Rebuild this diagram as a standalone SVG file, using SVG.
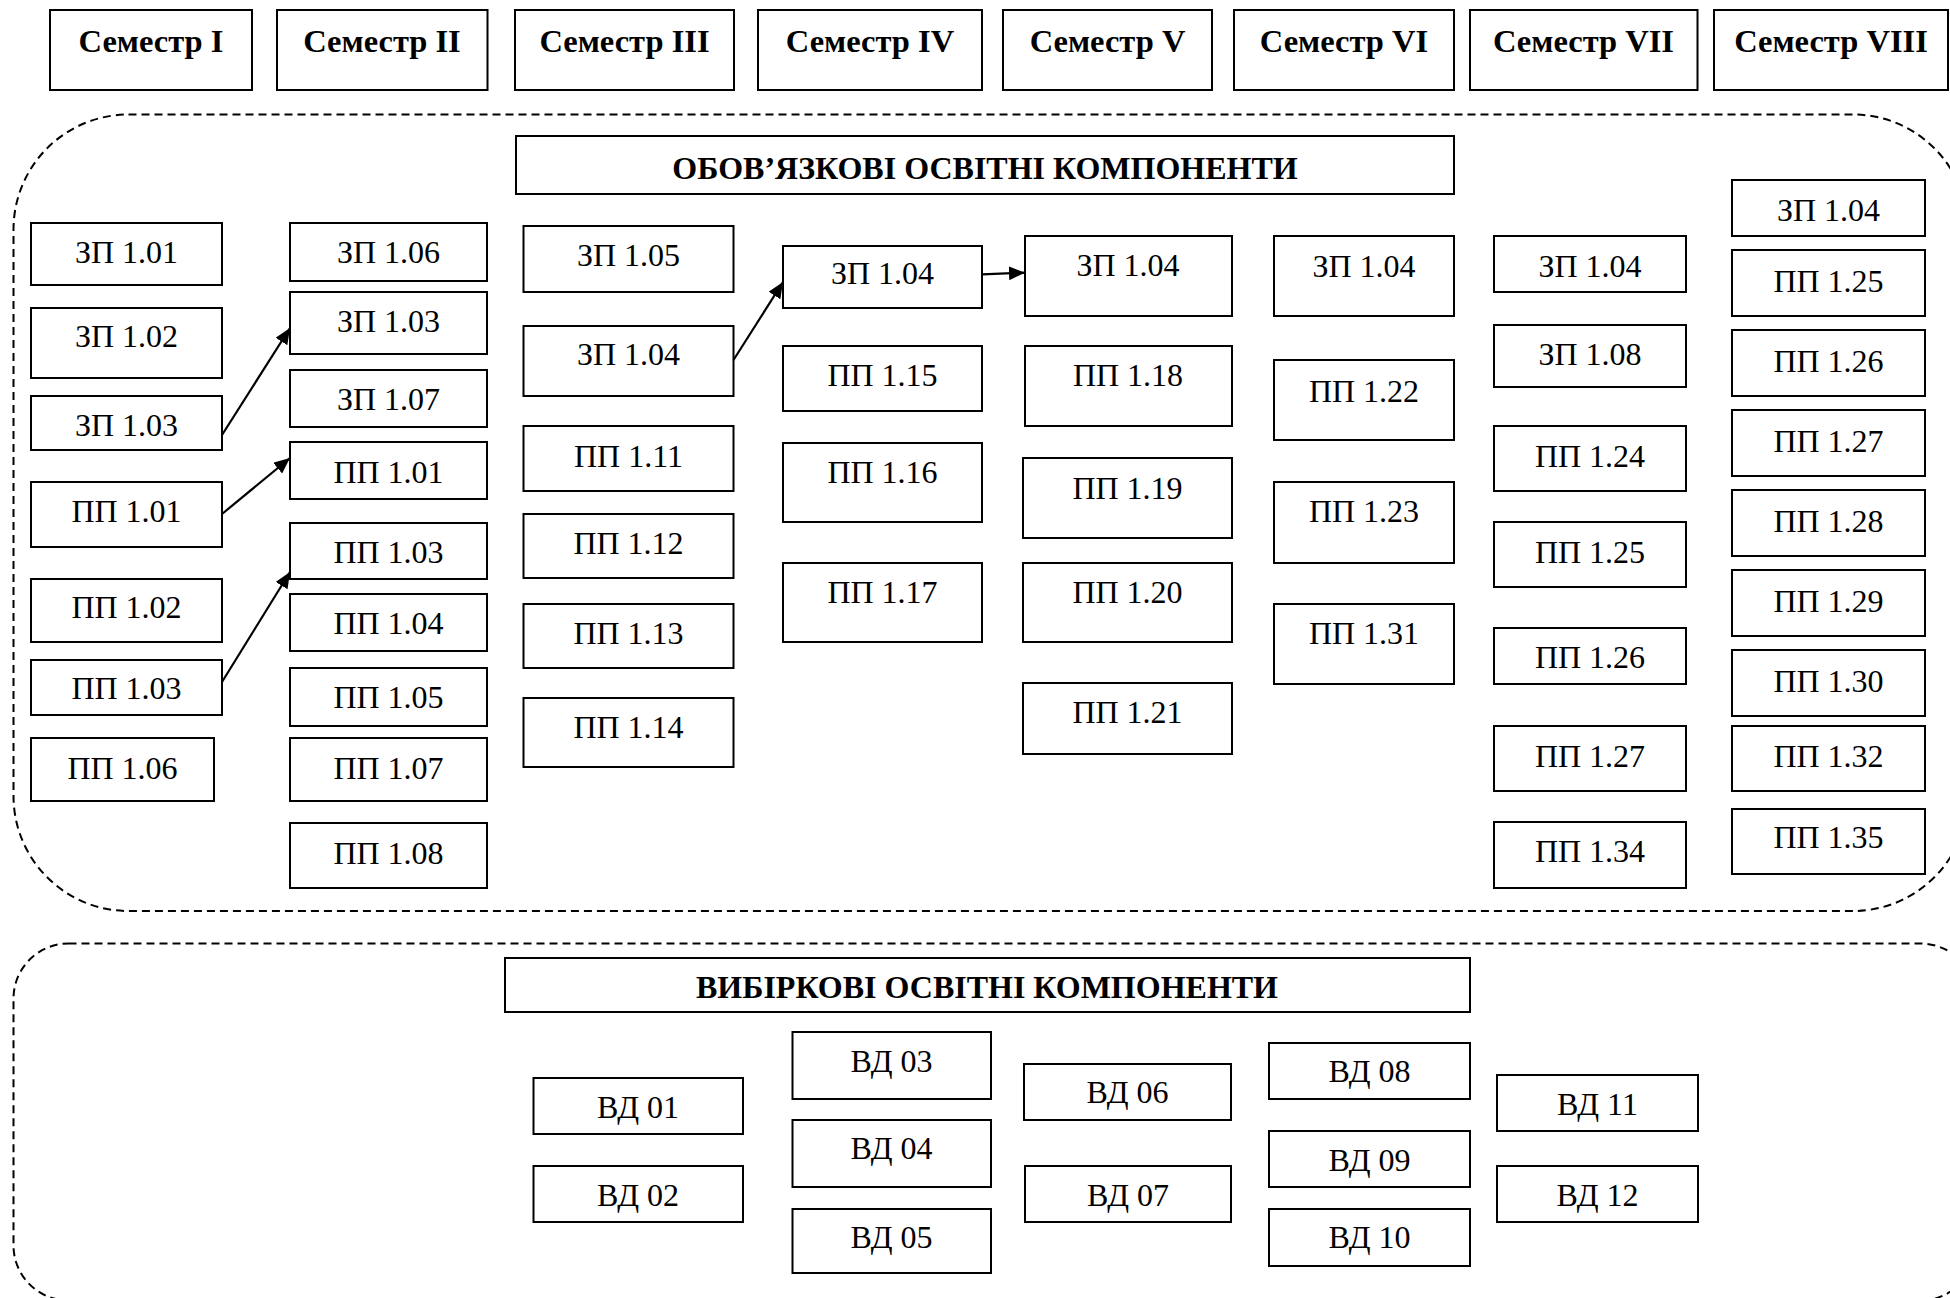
<svg xmlns="http://www.w3.org/2000/svg" width="1950" height="1298" viewBox="0 0 1950 1298">
<style>
.box{fill:#fff;stroke:#000;stroke-width:2}
.t{font-family:"Liberation Serif","Times New Roman",serif;font-size:32px;text-anchor:middle;fill:#000}
.h{font-family:"Liberation Serif","Times New Roman",serif;font-size:32.5px;font-weight:bold;text-anchor:middle;fill:#000}
.tt{font-family:"Liberation Serif","Times New Roman",serif;font-size:32px;font-weight:bold;text-anchor:middle;fill:#000}
.dash{fill:none;stroke:#000;stroke-width:2;stroke-dasharray:8 5}
.conn{stroke:#000;stroke-width:2.2;fill:none}
</style>
<defs>
<marker id="arr" markerUnits="userSpaceOnUse" markerWidth="18" markerHeight="16" refX="16" refY="7" orient="auto">
<path d="M0,0 L16,7 L0,14 z" fill="#000"/>
</marker>
</defs>
<rect width="1950" height="1298" fill="#fff"/>

<g id="groups">
<rect id="mandatory-area" class="dash" x="13.5" y="114.5" width="1954.5" height="796.5" rx="115" ry="115"/>
<rect id="elective-area" class="dash" x="13.5" y="943.5" width="1962" height="357" rx="55" ry="55"/>
</g>

<g id="semesters">
<g id="sem1"><rect class="box" x="50" y="10" width="202" height="80"/><text class="h" x="151" y="52">Семестр I</text></g>
<g id="sem2"><rect class="box" x="277" y="10" width="210.5" height="80"/><text class="h" x="382" y="52">Семестр II</text></g>
<g id="sem3"><rect class="box" x="515" y="10" width="219" height="80"/><text class="h" x="624.5" y="52">Семестр III</text></g>
<g id="sem4"><rect class="box" x="758" y="10" width="224" height="80"/><text class="h" x="870" y="52">Семестр IV</text></g>
<g id="sem5"><rect class="box" x="1003" y="10" width="209" height="80"/><text class="h" x="1107.5" y="52">Семестр V</text></g>
<g id="sem6"><rect class="box" x="1234" y="10" width="220" height="80"/><text class="h" x="1344" y="52">Семестр VI</text></g>
<g id="sem7"><rect class="box" x="1470" y="10" width="227.5" height="80"/><text class="h" x="1583.5" y="52">Семестр VII</text></g>
<g id="sem8"><rect class="box" x="1714" y="10" width="234" height="80"/><text class="h" x="1831" y="52">Семестр VIII</text></g>
</g>

<g id="title-mandatory"><rect class="box" x="516" y="136" width="938" height="58"/><text class="tt" x="985" y="179">ОБОВ’ЯЗКОВІ ОСВІТНІ КОМПОНЕНТИ</text></g>
<g id="title-elective"><rect class="box" x="505" y="958" width="965" height="54"/><text class="tt" x="987" y="998">ВИБІРКОВІ ОСВІТНІ КОМПОНЕНТИ</text></g>

<g id="col1">
<g id="s1-zp101"><rect class="box" x="31" y="223" width="191" height="62"/><text class="t" x="126.5" y="263">ЗП 1.01</text></g>
<g id="s1-zp102"><rect class="box" x="31" y="308" width="191" height="70"/><text class="t" x="126.5" y="347">ЗП 1.02</text></g>
<g id="s1-zp103"><rect class="box" x="31" y="396" width="191" height="54"/><text class="t" x="126.5" y="436">ЗП 1.03</text></g>
<g id="s1-pp101"><rect class="box" x="31" y="482" width="191" height="65"/><text class="t" x="126.5" y="522">ПП 1.01</text></g>
<g id="s1-pp102"><rect class="box" x="31" y="579" width="191" height="63"/><text class="t" x="126.5" y="618">ПП 1.02</text></g>
<g id="s1-pp103"><rect class="box" x="31" y="660" width="191" height="55"/><text class="t" x="126.5" y="699">ПП 1.03</text></g>
<g id="s1-pp106"><rect class="box" x="31" y="738" width="183" height="63"/><text class="t" x="122.5" y="779">ПП 1.06</text></g>
</g>

<g id="col2">
<g id="s2-zp106"><rect class="box" x="290" y="223" width="197" height="58"/><text class="t" x="388.5" y="263">ЗП 1.06</text></g>
<g id="s2-zp103"><rect class="box" x="290" y="292" width="197" height="62"/><text class="t" x="388.5" y="332">ЗП 1.03</text></g>
<g id="s2-zp107"><rect class="box" x="290" y="370" width="197" height="57"/><text class="t" x="388.5" y="410">ЗП 1.07</text></g>
<g id="s2-pp101"><rect class="box" x="290" y="442" width="197" height="57"/><text class="t" x="388.5" y="483">ПП 1.01</text></g>
<g id="s2-pp103"><rect class="box" x="290" y="523" width="197" height="56"/><text class="t" x="388.5" y="563">ПП 1.03</text></g>
<g id="s2-pp104"><rect class="box" x="290" y="594" width="197" height="57"/><text class="t" x="388.5" y="634">ПП 1.04</text></g>
<g id="s2-pp105"><rect class="box" x="290" y="668" width="197" height="58"/><text class="t" x="388.5" y="708">ПП 1.05</text></g>
<g id="s2-pp107"><rect class="box" x="290" y="738" width="197" height="63"/><text class="t" x="388.5" y="779">ПП 1.07</text></g>
<g id="s2-pp108"><rect class="box" x="290" y="823" width="197" height="65"/><text class="t" x="388.5" y="864">ПП 1.08</text></g>
</g>

<g id="col3">
<g id="s3-zp105"><rect class="box" x="523.5" y="226" width="210" height="66"/><text class="t" x="628.5" y="266">ЗП 1.05</text></g>
<g id="s3-zp104"><rect class="box" x="523.5" y="326" width="210" height="70"/><text class="t" x="628.5" y="365">ЗП 1.04</text></g>
<g id="s3-pp111"><rect class="box" x="523.5" y="426" width="210" height="65"/><text class="t" x="628.5" y="467">ПП 1.11</text></g>
<g id="s3-pp112"><rect class="box" x="523.5" y="514" width="210" height="64"/><text class="t" x="628.5" y="554">ПП 1.12</text></g>
<g id="s3-pp113"><rect class="box" x="523.5" y="604" width="210" height="64"/><text class="t" x="628.5" y="644">ПП 1.13</text></g>
<g id="s3-pp114"><rect class="box" x="523.5" y="698" width="210" height="69"/><text class="t" x="628.5" y="738">ПП 1.14</text></g>
</g>

<g id="col4">
<g id="s4-zp104"><rect class="box" x="783" y="246" width="199" height="62"/><text class="t" x="882.5" y="284">ЗП 1.04</text></g>
<g id="s4-pp115"><rect class="box" x="783" y="346" width="199" height="65"/><text class="t" x="882.5" y="386">ПП 1.15</text></g>
<g id="s4-pp116"><rect class="box" x="783" y="443" width="199" height="79"/><text class="t" x="882.5" y="483">ПП 1.16</text></g>
<g id="s4-pp117"><rect class="box" x="783" y="563" width="199" height="79"/><text class="t" x="882.5" y="603">ПП 1.17</text></g>
</g>

<g id="col5">
<g id="s5-zp104"><rect class="box" x="1025" y="236" width="207" height="80"/><text class="t" x="1128" y="276">ЗП 1.04</text></g>
<g id="s5-pp118"><rect class="box" x="1025" y="346" width="207" height="80"/><text class="t" x="1128" y="386">ПП 1.18</text></g>
<g id="s5-pp119"><rect class="box" x="1023" y="458" width="209" height="80"/><text class="t" x="1127.5" y="499">ПП 1.19</text></g>
<g id="s5-pp120"><rect class="box" x="1023" y="563" width="209" height="79"/><text class="t" x="1127.5" y="603">ПП 1.20</text></g>
<g id="s5-pp121"><rect class="box" x="1023" y="683" width="209" height="71"/><text class="t" x="1127.5" y="723">ПП 1.21</text></g>
</g>

<g id="col6">
<g id="s6-zp104"><rect class="box" x="1274" y="236" width="180" height="80"/><text class="t" x="1364" y="277">ЗП 1.04</text></g>
<g id="s6-pp122"><rect class="box" x="1274" y="360" width="180" height="80"/><text class="t" x="1364" y="402">ПП 1.22</text></g>
<g id="s6-pp123"><rect class="box" x="1274" y="482" width="180" height="81"/><text class="t" x="1364" y="522">ПП 1.23</text></g>
<g id="s6-pp131"><rect class="box" x="1274" y="604" width="180" height="80"/><text class="t" x="1364" y="644">ПП 1.31</text></g>
</g>

<g id="col7">
<g id="s7-zp104"><rect class="box" x="1494" y="236" width="192" height="56"/><text class="t" x="1590" y="277">ЗП 1.04</text></g>
<g id="s7-zp108"><rect class="box" x="1494" y="325" width="192" height="62"/><text class="t" x="1590" y="365">ЗП 1.08</text></g>
<g id="s7-pp124"><rect class="box" x="1494" y="426" width="192" height="65"/><text class="t" x="1590" y="467">ПП 1.24</text></g>
<g id="s7-pp125"><rect class="box" x="1494" y="522" width="192" height="65"/><text class="t" x="1590" y="563">ПП 1.25</text></g>
<g id="s7-pp126"><rect class="box" x="1494" y="628" width="192" height="56"/><text class="t" x="1590" y="668">ПП 1.26</text></g>
<g id="s7-pp127"><rect class="box" x="1494" y="726" width="192" height="65"/><text class="t" x="1590" y="767">ПП 1.27</text></g>
<g id="s7-pp134"><rect class="box" x="1494" y="822" width="192" height="66"/><text class="t" x="1590" y="862">ПП 1.34</text></g>
</g>

<g id="col8">
<g id="s8-zp104"><rect class="box" x="1732" y="180" width="193" height="56"/><text class="t" x="1828.5" y="221">ЗП 1.04</text></g>
<g id="s8-pp125"><rect class="box" x="1732" y="250" width="193" height="66"/><text class="t" x="1828.5" y="292">ПП 1.25</text></g>
<g id="s8-pp126"><rect class="box" x="1732" y="330" width="193" height="66"/><text class="t" x="1828.5" y="372">ПП 1.26</text></g>
<g id="s8-pp127"><rect class="box" x="1732" y="410" width="193" height="66"/><text class="t" x="1828.5" y="452">ПП 1.27</text></g>
<g id="s8-pp128"><rect class="box" x="1732" y="490" width="193" height="66"/><text class="t" x="1828.5" y="532">ПП 1.28</text></g>
<g id="s8-pp129"><rect class="box" x="1732" y="570" width="193" height="66"/><text class="t" x="1828.5" y="612">ПП 1.29</text></g>
<g id="s8-pp130"><rect class="box" x="1732" y="650" width="193" height="66"/><text class="t" x="1828.5" y="692">ПП 1.30</text></g>
<g id="s8-pp132"><rect class="box" x="1732" y="726" width="193" height="65"/><text class="t" x="1828.5" y="767">ПП 1.32</text></g>
<g id="s8-pp135"><rect class="box" x="1732" y="809" width="193" height="65"/><text class="t" x="1828.5" y="848">ПП 1.35</text></g>
</g>

<g id="electives">
<g id="vd01"><rect class="box" x="533.5" y="1078" width="209.5" height="56"/><text class="t" x="638" y="1118">ВД 01</text></g>
<g id="vd02"><rect class="box" x="533.5" y="1166" width="209.5" height="56"/><text class="t" x="638" y="1206">ВД 02</text></g>
<g id="vd03"><rect class="box" x="792.5" y="1032" width="198.5" height="67"/><text class="t" x="891.5" y="1072">ВД 03</text></g>
<g id="vd04"><rect class="box" x="792.5" y="1120" width="198.5" height="67"/><text class="t" x="891.5" y="1159">ВД 04</text></g>
<g id="vd05"><rect class="box" x="792.5" y="1209" width="198.5" height="64"/><text class="t" x="891.5" y="1248">ВД 05</text></g>
<g id="vd06"><rect class="box" x="1024" y="1064" width="207" height="56"/><text class="t" x="1127.5" y="1103">ВД 06</text></g>
<g id="vd07"><rect class="box" x="1025" y="1166" width="206" height="56"/><text class="t" x="1128" y="1206">ВД 07</text></g>
<g id="vd08"><rect class="box" x="1269" y="1043" width="201" height="56"/><text class="t" x="1369.5" y="1082">ВД 08</text></g>
<g id="vd09"><rect class="box" x="1269" y="1131" width="201" height="56"/><text class="t" x="1369.5" y="1171">ВД 09</text></g>
<g id="vd10"><rect class="box" x="1269" y="1209" width="201" height="57"/><text class="t" x="1369.5" y="1248">ВД 10</text></g>
<g id="vd11"><rect class="box" x="1497" y="1075" width="201" height="56"/><text class="t" x="1597.5" y="1115">ВД 11</text></g>
<g id="vd12"><rect class="box" x="1497" y="1166" width="201" height="56"/><text class="t" x="1597.5" y="1206">ВД 12</text></g>
</g>

<g id="connectors">
<line class="conn" x1="222" y1="435" x2="290" y2="328" marker-end="url(#arr)"/>
<line class="conn" x1="222" y1="514" x2="290" y2="458" marker-end="url(#arr)"/>
<line class="conn" x1="222" y1="682" x2="290" y2="572" marker-end="url(#arr)"/>
<line class="conn" x1="733.5" y1="360" x2="783" y2="282" marker-end="url(#arr)"/>
<line class="conn" x1="982" y1="274.3" x2="1025" y2="272.7" marker-end="url(#arr)"/>
</g>
</svg>
